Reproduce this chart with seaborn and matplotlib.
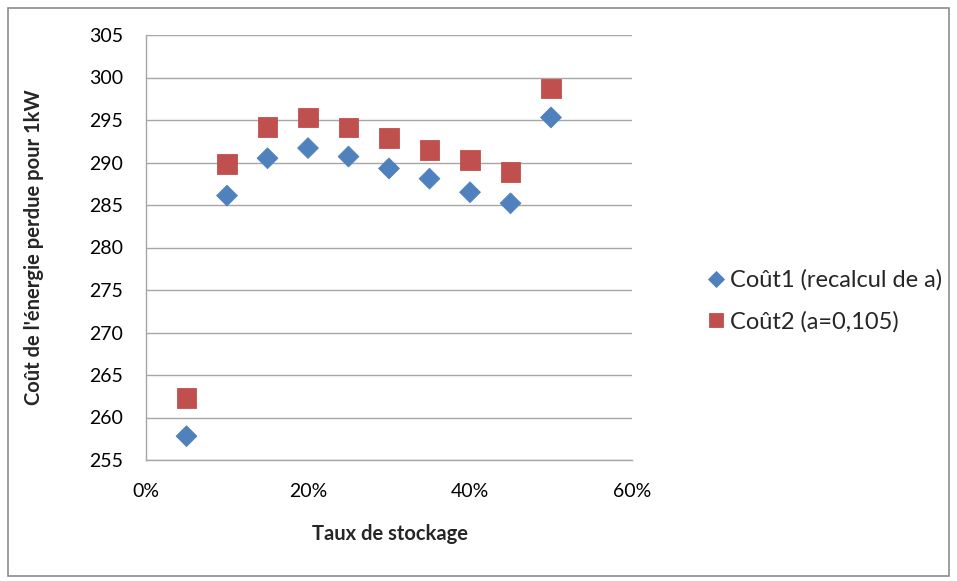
import numpy as np
import pandas as pd
import matplotlib
matplotlib.use("Agg")
import matplotlib.pyplot as plt
from matplotlib.ticker import PercentFormatter
from matplotlib.patches import Rectangle
import seaborn as sns

taux = [0.05, 0.10, 0.15, 0.20, 0.25, 0.30, 0.35, 0.40, 0.45, 0.50]
cout1 = [257.8, 286.1, 290.5, 291.7, 290.7, 289.3, 288.1, 286.5, 285.2, 295.3]
cout2 = [262.3, 289.8, 294.2, 295.3, 294.1, 292.9, 291.5, 290.3, 288.9, 298.7]
series_names = ["Coût1 (recalcul de a)", "Coût2 (a=0,105)"]
x_ticks = [0.0, 0.2, 0.4, 0.6]
y_ticks = [255, 260, 265, 270, 275, 280, 285, 290, 295, 300, 305]

df = pd.DataFrame({
    "taux": taux * 2,
    "cout": cout1 + cout2,
    "serie": [series_names[0]] * len(taux) + [series_names[1]] * len(taux),
})

sns.set_theme(style="white")
plt.rcParams['font.family'] = ['Lato', 'DejaVu Sans']

fig = plt.figure(figsize=(9.57, 5.81), dpi=100)
L, R, T, B = 146, 632, 35, 460
ax = fig.add_axes([L / 957, 1 - B / 581, (R - L) / 957, (B - T) / 581])

grid_c = "#A6A6A6"
sns.scatterplot(data=df, x="taux", y="cout", hue="serie", style="serie", size="serie",
                palette={series_names[0]: "#4F81BD", series_names[1]: "#C0504D"},
                markers={series_names[0]: "D", series_names[1]: "s"},
                sizes={series_names[0]: 112, series_names[1]: 200},
                linewidth=0.6, edgecolor=None, ax=ax, zorder=3)

ax.set_xlim(0, 0.6)
ax.set_ylim(255, 305)
ax.set_xticks(x_ticks)
ax.set_yticks(y_ticks)
ax.xaxis.set_major_formatter(PercentFormatter(1.0, decimals=0))
ax.grid(axis="y", color=grid_c, linewidth=1.0)
ax.grid(axis="x", visible=False)
for side in ["top", "right"]:
    ax.spines[side].set_visible(False)
for side in ["left", "bottom"]:
    ax.spines[side].set_color(grid_c)
    ax.spines[side].set_linewidth(1.0)
ax.tick_params(axis="both", which="major", direction="out", length=6.5, width=1.0,
               color=grid_c, labelsize=14, labelcolor="black")
ax.tick_params(axis="y", pad=10)
ax.tick_params(axis="x", pad=10)
ax.set_xlabel("Taux de stockage", fontsize=14.5, fontweight="bold")
ax.set_ylabel("Coût de l'énergie perdue pour 1kW", fontsize=14.5, fontweight="bold")
ax.xaxis.set_label_coords((390 - L) / (R - L), -(524 - B) / (B - T))
ax.yaxis.set_label_coords((44 - L) / (R - L), 0.5)

leg = ax.legend(loc="center left", bbox_to_anchor=(690 / 957, 1 - 301 / 581),
                bbox_transform=fig.transFigure, frameon=False, fontsize=17,
                markerscale=0.75, handletextpad=0.0, borderpad=0.0,
                labelspacing=0.85, handlelength=1.2)

fig.patches.append(Rectangle((8 / 957, 1 - 576 / 581), 941 / 957, 568 / 581,
                             transform=fig.transFigure, fill=False,
                             edgecolor="#8C8C8C", linewidth=1.2))

fig.savefig("out.png", dpi=100, facecolor="white")
